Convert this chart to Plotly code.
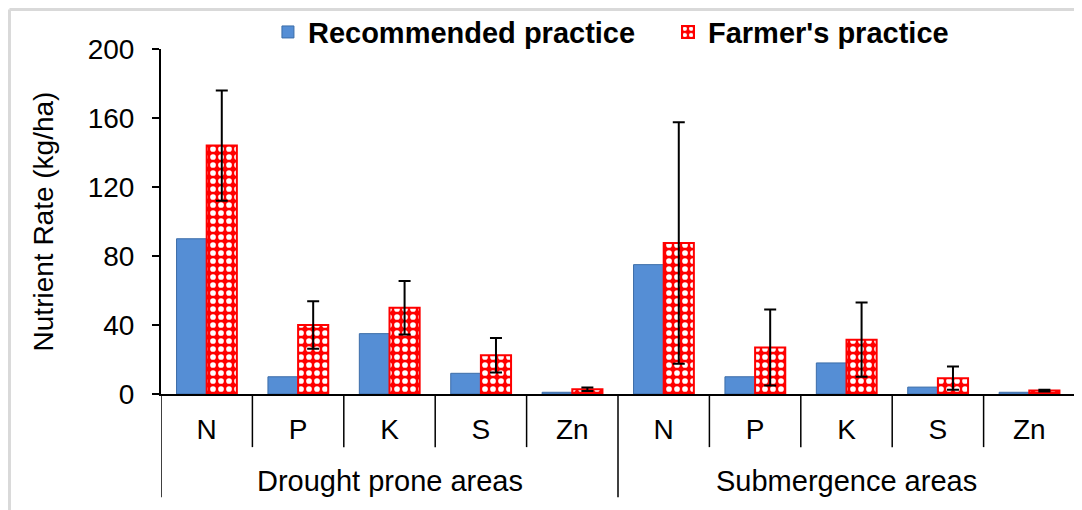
import plotly.graph_objects as go

areas = ["Drought prone areas", "Submergence areas"]
nutrients = ["N", "P", "K", "S", "Zn"]
recommended = [90, 10, 35, 12, 1, 75, 10, 18, 4, 1]
farmers = [144, 40, 50, 22.5, 2.8, 87.5, 27, 31.5, 9.2, 2]
farmers_err = [32, 13.7, 15.5, 10, 1, 70, 22, 21.5, 6.7, 0.5]

FONT = "Liberation Sans, Arial, sans-serif"
n_area = len(nutrients)
xpos = list(range(len(areas) * n_area))
ticktext = nutrients * len(areas)

fig = go.Figure()
fig.add_trace(go.Bar(
    x=xpos, y=recommended, name="Recommended practice", legend="legend", showlegend=True,
    marker=dict(color="#558ED5", line=dict(color="#3C6DA8", width=1)),
))
fig.add_trace(go.Bar(
    x=xpos, y=farmers, name="Farmer's practice", legend="legend2", showlegend=True,
    marker=dict(color="#FF0000", line=dict(color="#FF0000", width=2),
                pattern=dict(shape=".", fgcolor="white", bgcolor="#FF0000",
                             size=8, solidity=0.4, fillmode="replace")),
    error_y=dict(type="data", array=farmers_err, color="black", thickness=2, width=6),
))

shapes = []
for i in range(1, len(xpos)):
    if i % n_area == 0:
        continue
    shapes.append(dict(type="line", xref="x", yref="paper", x0=i - 0.5, x1=i - 0.5,
                       y0=0, y1=-0.154, line=dict(color="black", width=1.5)))
for g in range(len(areas) + 1):
    xv = g * n_area - 0.5
    shapes.append(dict(type="line", xref="x", yref="paper", x0=xv, x1=xv,
                       y0=0, y1=-0.299, line=dict(color="black", width=1.5)))
shapes.append(dict(type="line", xref="paper", yref="paper", x0=-0.1658, x1=1.01,
                   y0=1.1145, y1=1.1145, line=dict(color="#D9D9D9", width=3)))
shapes.append(dict(type="line", xref="paper", yref="paper", x0=-0.1658, x1=-0.1658,
                   y0=1.1145, y1=-0.34, line=dict(color="#D9D9D9", width=3)))

annotations = []
for g, a in enumerate(areas):
    annotations.append(dict(text=a, xref="x", yref="paper", x=g * n_area + (n_area - 1) / 2,
                            y=-0.252, yanchor="middle", xanchor="center", showarrow=False,
                            font=dict(family=FONT, size=29, color="black")))

legend_common = dict(orientation="h", y=1.049, yanchor="middle",
                     font=dict(family=FONT, size=29, color="black", weight="bold"),
                     bgcolor="rgba(0,0,0,0)", borderwidth=0)

fig.update_layout(
    width=1074, height=502, autosize=False,
    margin=dict(l=153, r=7, t=41, b=116, autoexpand=False),
    paper_bgcolor="white", plot_bgcolor="white",
    showlegend=True,
    barmode="group", bargap=0.34, bargroupgap=0,
    font=dict(family=FONT, color="black"),
    shapes=shapes, annotations=annotations,
    legend=dict(x=0.117, xanchor="left", **legend_common),
    legend2=dict(x=0.5547, xanchor="left", **legend_common),
    xaxis=dict(range=[-0.5, len(xpos) - 0.5], tickvals=xpos, ticktext=ticktext,
               showline=True, linecolor="black", linewidth=2, ticks="",
               tickfont=dict(family=FONT, size=28, color="black"),
               ticklabelstandoff=9, showgrid=False, zeroline=False, automargin=False),
    yaxis=dict(range=[0, 200], dtick=40, tick0=0, ticks="outside", ticklen=7,
               tickwidth=1.5, tickcolor="black", showline=True, linecolor="black",
               linewidth=2, showgrid=False, zeroline=False, automargin=False,
               tickfont=dict(family=FONT, size=28, color="black"),
               ticklabelstandoff=12,
               title=dict(text="Nutrient Rate (kg/ha)", standoff=26,
                          font=dict(family=FONT, size=28, color="black"))),
)

fig.write_html("out.html")
